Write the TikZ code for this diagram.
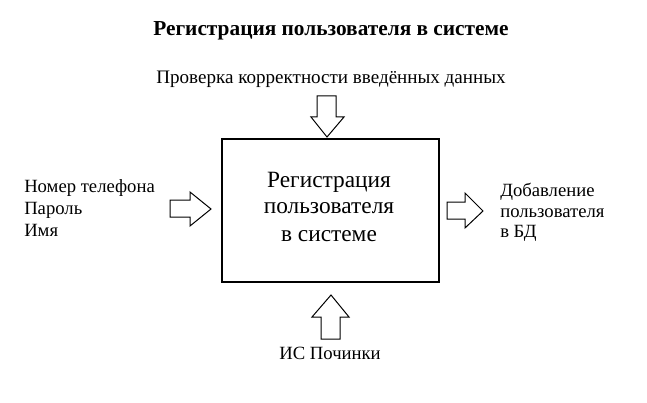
\documentclass[tikz,border=0pt]{standalone}
\usepackage{fontspec}
\setmainfont{Liberation Serif}
\begin{document}
\begin{tikzpicture}[x=0.75pt,y=-0.75pt,
  txt/.style={inner sep=0pt,font=\fontsize{14}{16}\selectfont},
  blockarrow/.style={draw=black,line width=0.75pt,fill=white,line join=miter},
  mainbox/.style={draw=black,line width=1.1pt,minimum width=217*0.75pt,minimum height=143*0.75pt,inner sep=0pt}]
\useasboundingbox (0,0) rectangle (647,403);
% title
\node[txt,anchor=base,font=\fontsize{16}{18}\selectfont\bfseries] (title) at (331,36) {Регистрация пользователя в системе};
\node[txt,anchor=base,font=\fontsize{14.3}{16}\selectfont] (control) at (331,84) {Проверка корректности введённых данных};
% main box
\node[mainbox] (box) at (330.5,210.5) {};
\node[txt,anchor=base,font=\fontsize{17.5}{16}\selectfont] (l1) at (329,187) {Регистрация};
\node[txt,anchor=base,font=\fontsize{17.5}{16}\selectfont] (l2) at (329,214) {пользователя};
\node[txt,anchor=base,font=\fontsize{17.5}{16}\selectfont] (l3) at (329,241) {в системе};
% inputs
\node[txt,anchor=base west] (in1) at (24,193) {Номер телефона};
\node[txt,anchor=base west] (in2) at (24,214.5) {Пароль};
\node[txt,anchor=base west] (in3) at (24,236) {Имя};
% outputs
\node[txt,anchor=base west] (out1) at (500,196) {Добавление};
\node[txt,anchor=base west] (out2) at (500,217) {пользователя};
\node[txt,anchor=base west] (out3) at (500,238) {в БД};
% mechanism
\node[txt,anchor=base] (mech) at (330,359) {ИС Починки};
% block arrows
% top (down)
\draw[blockarrow] (317,96) -- (336,96) -- (336,117) -- (344,117) -- (327,137) -- (311,117) -- (317,117) -- cycle;
% left (right)
\draw[blockarrow] (170,200) -- (190,200) -- (190,192) -- (211,209) -- (190,226) -- (190,217) -- (170,217) -- cycle;
% right (right)
\draw[blockarrow] (447,202) -- (465,202) -- (465,193) -- (483,211) -- (465,228) -- (465,219) -- (447,219) -- cycle;
% bottom (up)
\draw[blockarrow] (321,339) -- (321,317) -- (312,317) -- (331,295) -- (349,317) -- (340,317) -- (340,339) -- cycle;
\end{tikzpicture}
\end{document}
